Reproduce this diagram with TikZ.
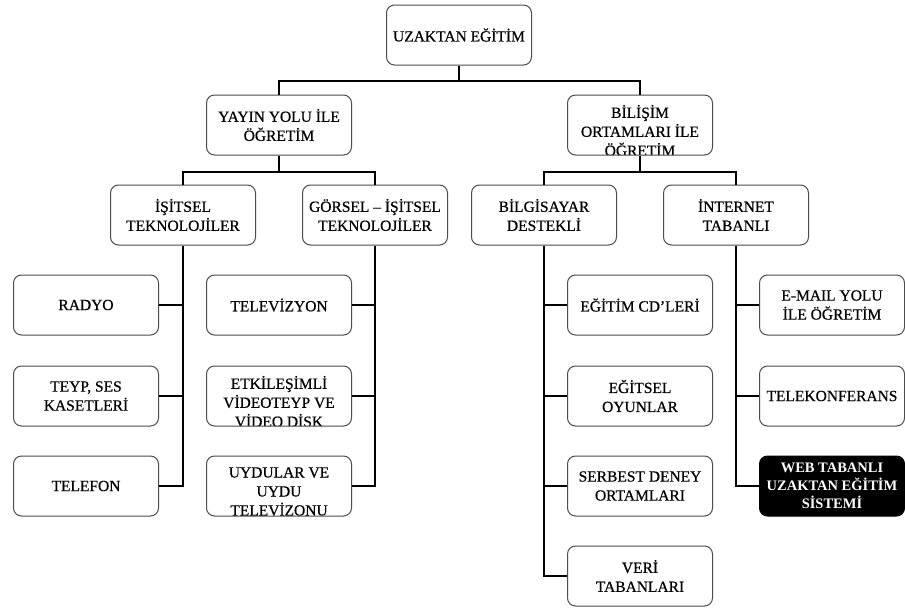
\documentclass[tikz,border=0pt]{standalone}
\usepackage{fontspec}
\setmainfont{Liberation Serif}
\newfontfamily\heavyserif{Liberation Serif}[FakeBold=0.5]
\newcommand{\boxfont}{\heavyserif\fontsize{15.5}{19}\selectfont}
\begin{document}
\begin{tikzpicture}[x=1pt,y=-1pt,
  box/.style={draw=black!70, line width=1pt, rounded corners=8pt,
    minimum width=145pt, minimum height=60pt, inner sep=0pt,
    align=center, font=\boxfont, fill=white},
  clipbox/.style={box, path picture={
    \node[draw=none, fill=none, inner sep=0pt, align=center, font=\boxfont,
      anchor=north] at ([yshift=-5pt]path picture bounding box.north) {#1};}},
  darkbox/.style={box, fill=black, draw=black, text=white,
    font=\rmfamily\fontsize{14.5}{18}\selectfont\bfseries},
  conn/.style={line width=2.8pt, draw=black}]
\useasboundingbox[fill=white] (0,0) rectangle (905,608);

% level 0
\node[box] (root) at (459,35) {UZAKTAN EĞİTİM};
% level 1
\node[box] (yay) at (279,125) {YAYIN YOLU İLE\\ÖĞRETİM};
\node[clipbox={BİLİŞİM\\ORTAMLARI İLE\\ÖĞRETİM}] (bil) at (640,125) {};
% level 2
\node[box] (isit) at (183,215) {İŞİTSEL\\TEKNOLOJİLER};
\node[box] (gor) at (375,215) {GÖRSEL – İŞİTSEL\\TEKNOLOJİLER};
\node[box] (bilg) at (544,215) {BİLGİSAYAR\\DESTEKLİ};
\node[box] (int) at (736,215) {İNTERNET\\TABANLI};
% level 3
\node[box] (rad) at (86,305) {RADYO};
\node[box] (teyp) at (86,396) {TEYP, SES\\KASETLERİ};
\node[box] (tel) at (86,486) {TELEFON};
\node[box] (tv) at (279,305) {TELEVİZYON};
\node[clipbox={ETKİLEŞİMLİ\\VİDEOTEYP VE\\VİDEO DİSK}] (etk) at (279,396) {};
\node[clipbox={UYDULAR VE\\UYDU\\TELEVİZONU}] (uydu) at (279,486) {};
\node[box] (cd) at (640,305) {EĞİTİM CD’LERİ};
\node[box] (oyun) at (640,396) {EĞİTSEL\\OYUNLAR};
\node[box] (serb) at (640,486) {SERBEST DENEY\\ORTAMLARI};
\node[box] (veri) at (640,576) {VERİ\\TABANLARI};
\node[box] (email) at (832,305) {E-MAIL YOLU\\İLE ÖĞRETİM};
\node[box] (telek) at (832,396) {TELEKONFERANS};
\node[darkbox] (web) at (832,486) {WEB TABANLI\\UZAKTAN EĞİTİM\\SİSTEMİ};

% connectors
\coordinate (j0) at (459,81);
\draw[conn] (root.south) -- (j0);
\draw[conn] (yay.north) |- (j0) -| (bil.north);
\coordinate (j1) at (279,172);
\draw[conn] (yay.south) -- (j1);
\draw[conn] (isit.north) |- (j1) -| (gor.north);
\coordinate (j2) at (640,172);
\draw[conn] (bil.south) -- (j2);
\draw[conn] (bilg.north) |- (j2) -| (int.north);

\draw[conn] (isit.south) |- (tel.east);
\draw[conn] (rad.east) -- (rad.east -| isit.south);
\draw[conn] (teyp.east) -- (teyp.east -| isit.south);

\draw[conn] (gor.south) |- (uydu.east);
\draw[conn] (tv.east) -- (tv.east -| gor.south);
\draw[conn] (etk.east) -- (etk.east -| gor.south);

\draw[conn] (bilg.south) |- (veri.west);
\draw[conn] (cd.west) -- (cd.west -| bilg.south);
\draw[conn] (oyun.west) -- (oyun.west -| bilg.south);
\draw[conn] (serb.west) -- (serb.west -| bilg.south);

\draw[conn] (int.south) |- (web.west);
\draw[conn] (email.west) -- (email.west -| int.south);
\draw[conn] (telek.west) -- (telek.west -| int.south);
\end{tikzpicture}
\end{document}
